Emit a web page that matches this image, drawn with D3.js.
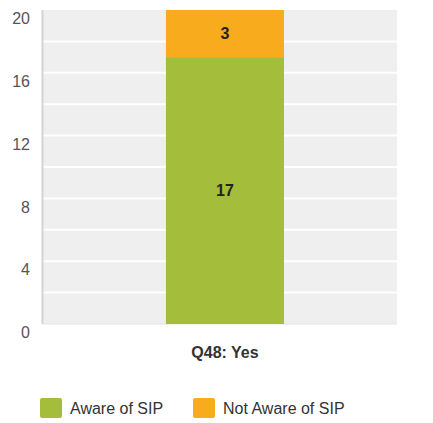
<!DOCTYPE html>
<html>
<head>
<meta charset="utf-8">
<script src="https://cdn.jsdelivr.net/npm/d3@7"></script>
<style>
  html, body { margin: 0; padding: 0; background: #fff; }
  svg { display: block; font-family: "Liberation Sans", Arial, sans-serif; }
</style>
</head>
<body>
<svg id="chart" width="433" height="423"></svg>
<script>
// Stacked bar: SIP awareness among "Yes" respondents
const categories = ["Q48: Yes"];
const seriesNames = ["Aware of SIP", "Not Aware of SIP"];
const aware = [17];
const notAware = [3];
const yTicks = [0, 4, 8, 12, 16, 20];
const colors = ["#a4bd3a", "#f8ab1c"];

const svg = d3.select("#chart");
const margin = { left: 42, right: 36, top: 10, bottom: 99 };
const W = 433, H = 423;

const rows = categories.map((c, i) => ({ cat: c, "Aware of SIP": aware[i], "Not Aware of SIP": notAware[i] }));
const stacked = d3.stack().keys(seriesNames)(rows);

const x = d3.scaleBand().domain(categories)
  .range([margin.left, W - margin.right])
  .paddingInner(0.2).paddingOuter(0.803).align(0.523);
const y = d3.scaleLinear().domain([0, 20]).range([H - margin.bottom, margin.top]);

// plot background
svg.append("rect")
  .attr("x", margin.left).attr("y", margin.top)
  .attr("width", W - margin.left - margin.right)
  .attr("height", H - margin.top - margin.bottom)
  .attr("fill", "#efefef");

// white gridlines every 2 units
const grid = d3.range(2, 20, 2);
svg.append("g").selectAll("line").data(grid).join("line")
  .attr("x1", margin.left).attr("x2", W - margin.right)
  .attr("y1", d => y(d)).attr("y2", d => y(d))
  .attr("stroke", "#fff").attr("stroke-width", 2);

// left axis line
svg.append("line")
  .attr("x1", margin.left + 0.5).attr("x2", margin.left + 0.5)
  .attr("y1", margin.top).attr("y2", y(0))
  .attr("stroke", "#d4d4d4").attr("stroke-width", 2);
svg.append("line")
  .attr("x1", margin.left).attr("x2", W - margin.right)
  .attr("y1", y(0)).attr("y2", y(0))
  .attr("stroke", "#e2e2e2").attr("stroke-width", 1);

// y tick labels
const yAxis = d3.axisLeft(y).tickValues(yTicks).tickSize(0).tickPadding(12);
const gy = svg.append("g").attr("transform", `translate(${margin.left},0)`).call(yAxis);
gy.select(".domain").remove();
gy.selectAll("text")
  .attr("dy", "0.85em")
  .attr("font-family", "Liberation Sans, Arial, sans-serif")
  .attr("font-size", 16).attr("fill", "#555");

// bars
const layers = svg.append("g").selectAll("g").data(stacked).join("g")
  .attr("fill", (d, i) => colors[i]);
layers.selectAll("rect").data(d => d).join("rect")
  .attr("x", d => x(d.data.cat))
  .attr("width", x.bandwidth())
  .attr("y", d => y(d[1]))
  .attr("height", d => y(d[0]) - y(d[1]));

// value labels
layers.selectAll("text").data(d => d.map(v => ({ v, key: d.key }))).join("text")
  .attr("x", d => x(d.v.data.cat) + x.bandwidth() / 2)
  .attr("y", d => (y(d.v[0]) + y(d.v[1])) / 2)
  .attr("dy", "0.35em")
  .attr("text-anchor", "middle")
  .attr("font-weight", "bold").attr("font-size", 16).attr("fill", "#222")
  .text(d => d.v.data[d.key]);

// category label
svg.append("g").selectAll("text").data(categories).join("text")
  .attr("x", d => x(d) + x.bandwidth() / 2)
  .attr("y", y(0) + 34)
  .attr("text-anchor", "middle")
  .attr("font-weight", "bold").attr("font-size", 16).attr("fill", "#333")
  .text(d => d);

// legend
const legendX = [40, 193];
const lg = svg.append("g").selectAll("g").data(seriesNames).join("g")
  .attr("transform", (d, i) => `translate(${legendX[i]},398)`);
lg.append("rect").attr("width", 22).attr("height", 20).attr("rx", 2)
  .attr("fill", (d, i) => colors[i]);
lg.append("text").attr("x", 30).attr("y", 10).attr("dy", "0.35em")
  .attr("font-size", 16).attr("fill", "#333").text(d => d);
</script>
</body>
</html>
